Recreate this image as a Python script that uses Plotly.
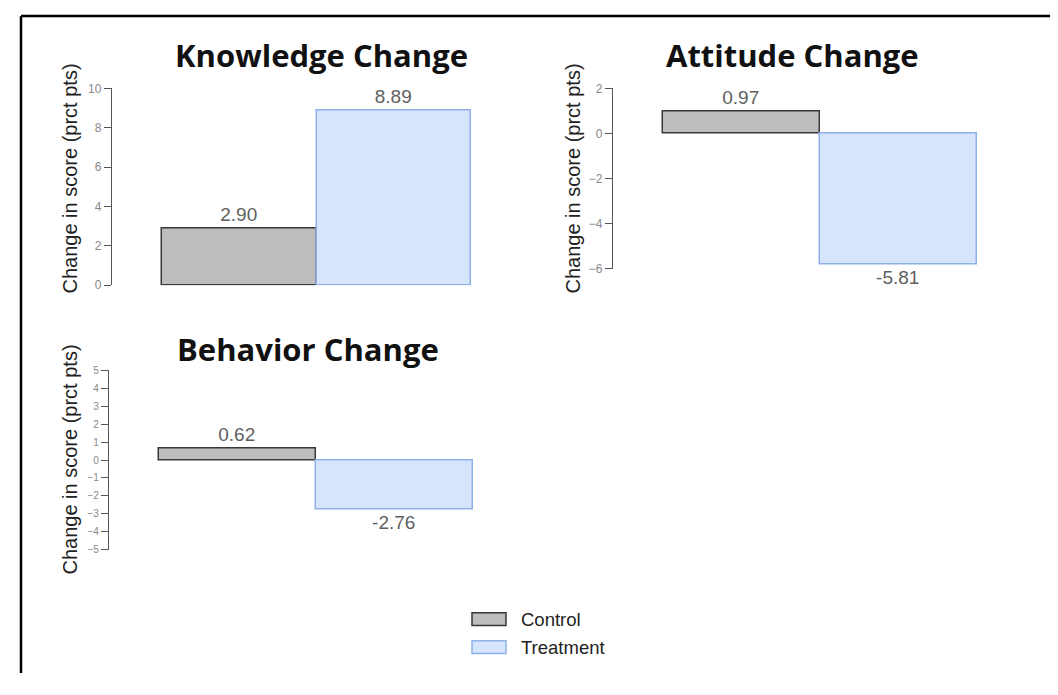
import plotly.graph_objects as go

# chart data
PANELS = ["Knowledge Change", "Attitude Change", "Behavior Change"]
GROUPS = ["Control", "Treatment"]
CONTROL = [2.90, 0.97, 0.62]
TREATMENT = [8.89, -5.81, -2.76]
Y_TICKS = [
    [0, 2, 4, 6, 8, 10],
    [2, 0, -2, -4, -6],
    [5, 4, 3, 2, 1, 0, -1, -2, -3, -4, -5],
]
Y_TITLE = "Change in score (prct pts)"

# the page body has an 8px margin; keep the page inside the window
W, H = 1042, 672
OFF = 8

FILL = {"Control": "#bdbdbd", "Treatment": "#d6e4fc"}
EDGE = {"Control": "#383838", "Treatment": "#8fb1ea"}

# panel geometry in window pixels
PANEL_BOX = [
    dict(x0=112, x1=521, top=83, bottom=284, rng=[0, 10], title=(321, 49), ytitle=(70, 175), tick=12),
    dict(x0=613, x1=1027, top=83, bottom=267, rng=[-6, 2], title=(792, 49), ytitle=(573, 175), tick=12),
    dict(x0=109, x1=523, top=371, bottom=554, rng=[-5, 5], title=(308, 349), ytitle=(70, 462), tick=10),
]
X_RANGE = [-0.82, 1.82]


def px_x(p):
    return (p - OFF) / W


def px_y(p):
    return 1 - (p - OFF) / H


fig = go.Figure()

for i, panel in enumerate(PANELS):
    box = PANEL_BOX[i]
    suffix = "" if i == 0 else str(i + 1)
    values = {"Control": CONTROL[i], "Treatment": TREATMENT[i]}
    for group in GROUPS:
        fig.add_trace(go.Bar(
            x=[group],
            y=[values[group]],
            name=group,
            width=1,
            marker=dict(color=FILL[group], line=dict(color=EDGE[group], width=1.5)),
            texttemplate="%{y:.2f}",
            textposition="outside",
            textfont=dict(family="Liberation Sans, Arial", size=19, color="#5f5f5f"),
            constraintext="none",
            cliponaxis=False,
            showlegend=False,
            xaxis="x" + suffix,
            yaxis="y" + suffix,
        ))

    fig.update_layout({
        "xaxis" + suffix: dict(
            domain=[px_x(box["x0"]), px_x(box["x1"])],
            anchor="y" + suffix,
            type="category",
            categoryorder="array",
            categoryarray=GROUPS,
            range=X_RANGE,
            visible=False,
            fixedrange=True,
        ),
        "yaxis" + suffix: dict(
            domain=[px_y(box["bottom"]), px_y(box["top"])],
            anchor="x" + suffix,
            range=box["rng"],
            tickvals=Y_TICKS[i],
            ticks="outside",
            ticklen=7,
            tickwidth=1,
            tickcolor="#555555",
            showline=True,
            linecolor="#555555",
            linewidth=1.3,
            showgrid=False,
            zeroline=False,
            tickfont=dict(family="Liberation Sans, Arial", size=box["tick"], color="#888888"),
            fixedrange=True,
        ),
    })

    # panel title
    fig.add_annotation(
        x=px_x(box["title"][0]), y=px_y(box["title"][1]),
        xref="paper", yref="paper", xanchor="center", yanchor="middle",
        text="<b>" + panel + "</b>", showarrow=False,
        font=dict(family="Open Sans", size=31, color="#111111"),
    )
    # y axis title
    fig.add_annotation(
        x=px_x(box["ytitle"][0]), y=px_y(box["ytitle"][1]),
        xref="paper", yref="paper", xanchor="center", yanchor="middle",
        text=Y_TITLE, textangle=-90, showarrow=False,
        font=dict(family="Liberation Sans, Arial", size=20, color="#222222"),
    )

# legend drawn as wide swatches with labels
for k, group in enumerate(GROUPS):
    yc = 625 + k * 28.5
    fig.add_shape(
        type="rect", xref="paper", yref="paper",
        x0=px_x(472), x1=px_x(506), y0=px_y(yc + 6.5), y1=px_y(yc - 6.5),
        fillcolor=FILL[group], line=dict(color=EDGE[group], width=1.5),
    )
    fig.add_annotation(
        x=px_x(519), y=px_y(yc), xref="paper", yref="paper",
        xanchor="left", yanchor="middle", text=group, showarrow=False,
        font=dict(family="Liberation Sans, Arial", size=18.5, color="#222222"),
    )

# frame lines on the left and top
fig.add_shape(type="line", xref="paper", yref="paper",
              x0=px_x(21), x1=px_x(21), y0=0, y1=1 - 1 / H,
              line=dict(color="#000000", width=2.5))
fig.add_shape(type="line", xref="paper", yref="paper",
              x0=px_x(21), x1=1, y0=1 - 1 / H, y1=1 - 1 / H,
              line=dict(color="#000000", width=2.5))

fig.update_layout(
    width=W,
    height=H,
    margin=dict(l=0, r=0, t=0, b=0),
    paper_bgcolor="white",
    plot_bgcolor="white",
    barmode="overlay",
    bargap=0,
    showlegend=False,
)

fig.write_html("out.html")
